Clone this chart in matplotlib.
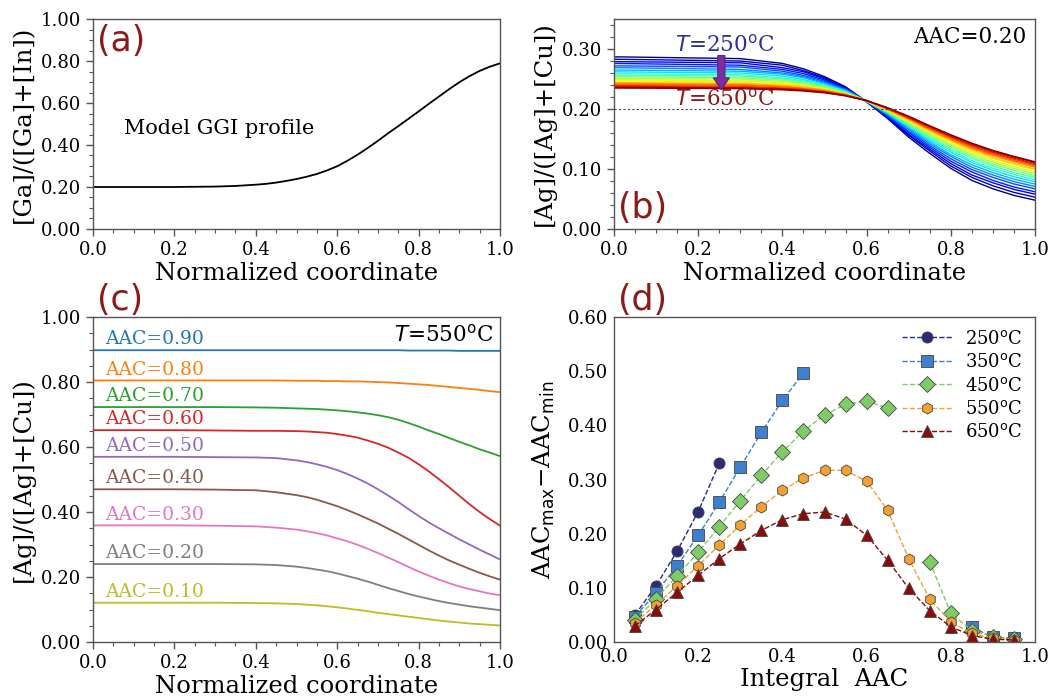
import numpy as np
import matplotlib.pyplot as plt
from matplotlib.ticker import AutoMinorLocator, MultipleLocator

plt.rcParams['font.family'] = 'DejaVu Serif'
plt.rcParams['mathtext.fontset'] = 'dejavusans'

# (a) model GGI profile
ggi_x = [0.0, 0.1, 0.2, 0.25, 0.3, 0.35, 0.375, 0.4, 0.425, 0.45, 0.475, 0.5,
         0.525, 0.55, 0.575, 0.6, 0.625, 0.65, 0.675, 0.7, 0.725, 0.75, 0.775,
         0.8, 0.825, 0.85, 0.875, 0.9, 0.925, 0.95, 0.975, 1.0]
ggi_y = [0.200, 0.200, 0.200, 0.201, 0.202, 0.205, 0.208, 0.211, 0.215, 0.221, 0.229, 0.238,
         0.249, 0.262, 0.279, 0.299, 0.325, 0.354, 0.386, 0.420, 0.456, 0.490, 0.525,
         0.560, 0.596, 0.631, 0.666, 0.699, 0.728, 0.753, 0.773, 0.789]

# (b) AAC=0.20 profiles, 250..650 C
b_x = [0.0, 0.3, 0.4, 0.45, 0.5, 0.55, 0.6, 0.65, 0.7, 0.75, 0.8, 0.85, 0.9, 0.95, 1.0]
b_temps = list(range(250, 651, 20))
b_profiles = [
    [.287, .284, .276, .267, .254, .237, .212, .184, .153, .126, .101, .081, .067, .056, .048],
    [.283, .280, .273, .264, .252, .236, .212, .185, .156, .130, .105, .086, .072, .061, .053],
    [.279, .277, .269, .262, .250, .235, .212, .187, .158, .133, .109, .090, .077, .066, .058],
    [.276, .273, .266, .259, .248, .234, .212, .188, .161, .136, .113, .095, .081, .070, .062],
    [.272, .270, .263, .256, .246, .233, .213, .189, .163, .139, .117, .099, .086, .075, .067],
    [.269, .266, .260, .254, .244, .232, .213, .190, .166, .142, .121, .103, .090, .079, .071],
    [.265, .263, .258, .252, .243, .231, .213, .192, .168, .145, .124, .107, .094, .083, .075],
    [.262, .260, .255, .249, .241, .230, .213, .193, .170, .148, .128, .111, .098, .087, .079],
    [.259, .257, .252, .247, .240, .229, .213, .194, .172, .151, .131, .114, .101, .091, .082],
    [.256, .255, .250, .245, .238, .228, .213, .195, .174, .153, .134, .118, .105, .094, .086],
    [.254, .252, .248, .243, .237, .227, .213, .196, .176, .156, .137, .121, .108, .098, .089],
    [.251, .250, .246, .242, .235, .227, .213, .196, .177, .158, .140, .124, .111, .101, .092],
    [.249, .247, .244, .240, .234, .226, .214, .197, .179, .160, .142, .127, .114, .104, .095],
    [.247, .245, .242, .238, .233, .225, .214, .198, .180, .162, .145, .129, .117, .107, .098],
    [.244, .243, .240, .237, .232, .225, .214, .199, .182, .164, .147, .132, .119, .109, .100],
    [.243, .241, .238, .235, .231, .224, .214, .199, .183, .165, .149, .134, .122, .112, .103],
    [.241, .240, .237, .234, .230, .224, .214, .200, .184, .167, .151, .136, .124, .114, .105],
    [.239, .238, .235, .233, .229, .223, .214, .201, .185, .168, .153, .138, .126, .116, .107],
    [.238, .236, .234, .232, .228, .223, .214, .201, .186, .170, .154, .140, .128, .118, .109],
    [.236, .235, .233, .231, .228, .222, .214, .202, .187, .171, .156, .142, .130, .120, .111],
    [.235, .234, .232, .230, .227, .222, .214, .202, .188, .172, .157, .143, .131, .121, .112],
]

# (c) T=550 C profiles for several AAC
c_x = [0.0, 0.2, 0.3, 0.4, 0.45, 0.5, 0.525, 0.55, 0.575, 0.6, 0.625, 0.65, 0.675,
       0.7, 0.725, 0.75, 0.775, 0.8, 0.825, 0.85, 0.875, 0.9, 0.925, 0.95, 0.975, 1.0]
c_aac = [0.90, 0.80, 0.70, 0.60, 0.50, 0.40, 0.30, 0.20, 0.10]
c_profiles = [
    [.898, .898, .898, .898, .898, .898, .898, .898, .898, .898, .898, .898, .898,
     .898, .898, .898, .897, .897, .897, .897, .897, .896, .896, .896, .896, .896],
    [.805, .805, .805, .805, .805, .804, .804, .804, .803, .803, .802, .802, .801,
     .800, .799, .797, .795, .793, .791, .788, .785, .782, .779, .776, .772, .769],
    [.723, .723, .723, .722, .721, .719, .718, .717, .715, .713, .710, .707, .703,
     .698, .692, .684, .674, .663, .651, .640, .628, .616, .605, .593, .583, .572],
    [.652, .652, .651, .650, .650, .649, .648, .646, .644, .640, .635, .629, .620,
     .610, .598, .583, .567, .547, .525, .501, .476, .450, .424, .400, .378, .358],
    [.570, .570, .569, .568, .566, .559, .554, .547, .539, .529, .517, .503, .488,
     .470, .451, .431, .409, .388, .368, .350, .333, .316, .300, .284, .269, .254],
    [.470, .470, .469, .467, .461, .452, .446, .438, .428, .418, .406, .393, .379,
     .365, .349, .333, .316, .299, .282, .266, .251, .238, .225, .213, .202, .192],
    [.359, .359, .358, .356, .352, .346, .341, .335, .328, .319, .310, .299, .287,
     .274, .260, .246, .231, .217, .204, .192, .181, .171, .163, .156, .149, .144],
    [.240, .240, .240, .239, .237, .232, .228, .223, .218, .211, .203, .195, .186,
     .176, .166, .157, .148, .140, .133, .126, .120, .115, .110, .106, .102, .098],
    [.121, .121, .121, .120, .119, .117, .115, .113, .110, .107, .103, .099, .095,
     .090, .086, .082, .078, .074, .070, .066, .063, .060, .057, .055, .053, .051],
]

# (d) AAC_max - AAC_min vs integral AAC
nan = np.nan
d_x = [0.05, 0.10, 0.15, 0.20, 0.25, 0.30, 0.35, 0.40, 0.45, 0.50,
       0.55, 0.60, 0.65, 0.70, 0.75, 0.80, 0.85, 0.90, 0.95]
d_250 = [0.050, 0.104, 0.168, 0.241, 0.330, nan, nan, nan, nan, nan,
         nan, nan, nan, nan, nan, nan, nan, nan, nan]
d_350 = [0.047, 0.091, 0.141, 0.197, 0.258, 0.323, 0.387, 0.446, 0.497, nan,
         nan, nan, nan, nan, nan, nan, 0.027, 0.009, 0.007]
d_450 = [0.041, 0.080, 0.122, 0.166, 0.213, 0.261, 0.308, 0.351, 0.390, 0.419,
         0.439, 0.445, 0.432, nan, 0.148, 0.053, 0.021, 0.010, 0.006]
d_550 = [0.036, 0.069, 0.104, 0.141, 0.179, 0.216, 0.250, 0.280, 0.303, 0.317,
         0.317, 0.297, 0.243, 0.154, 0.079, 0.037, 0.016, 0.007, 0.004]
d_650 = [0.030, 0.060, 0.092, 0.123, 0.154, 0.181, 0.206, 0.226, 0.237, 0.240,
         0.227, 0.197, 0.151, 0.099, 0.058, 0.028, 0.012, 0.005, 0.004]
d_labels = ['250', '350', '450', '550', '650']

panel_red = '#8b1a1a'
spine_c = '#555555'


def style(ax):
    for s in ax.spines.values():
        s.set_color(spine_c)
        s.set_linewidth(1.0)
    ax.tick_params(which='both', direction='out', color=spine_c, labelsize=13,
                   top=False, right=False)
    ax.tick_params(which='major', length=5, width=1)
    ax.tick_params(which='minor', length=3, width=0.8)
    ax.xaxis.set_minor_locator(AutoMinorLocator())
    ax.yaxis.set_minor_locator(AutoMinorLocator())


fig = plt.figure(figsize=(10.51, 6.99), dpi=100)
ax_a = fig.add_axes([0.0885, 0.6724, 0.3873, 0.3004])
ax_b = fig.add_axes([0.5842, 0.6724, 0.4006, 0.3004])
ax_c = fig.add_axes([0.0885, 0.0815, 0.3873, 0.4649])
ax_d = fig.add_axes([0.5842, 0.0815, 0.4006, 0.4649])

# (a)
ax_a.plot(ggi_x, ggi_y, color='black', lw=1.3)
ax_a.set_xlim(0, 1)
ax_a.set_ylim(0, 1)
ax_a.xaxis.set_major_locator(MultipleLocator(0.2))
ax_a.yaxis.set_major_locator(MultipleLocator(0.2))
ax_a.yaxis.set_major_formatter('{x:.2f}')
ax_a.xaxis.set_major_formatter('{x:.1f}')
style(ax_a)
ax_a.text(0.075, 0.48, 'Model GGI profile', fontsize=15, va='center')
ax_a.set_xlabel('Normalized coordinate', fontsize=17.5, labelpad=2)
ax_a.set_ylabel('[Ga]/([Ga]+[In])', fontsize=17.5, labelpad=4)
ax_a.text(0.01, 0.975, '(a)', transform=ax_a.transAxes, family='DejaVu Sans',
          fontsize=25, color=panel_red, va='top', ha='left')

# (b)
cols = plt.cm.jet(np.linspace(0, 1, len(b_temps)))
for prof, col in zip(b_profiles, cols):
    ax_b.plot(b_x, prof, color=col, lw=1.0)
ax_b.axhline(0.20, color='#444444', lw=0.8, ls=(0, (2, 2)))
ax_b.set_xlim(0, 1)
ax_b.set_ylim(0, 0.35)
ax_b.xaxis.set_major_locator(MultipleLocator(0.2))
ax_b.yaxis.set_major_locator(MultipleLocator(0.1))
ax_b.yaxis.set_major_formatter('{x:.2f}')
ax_b.xaxis.set_major_formatter('{x:.1f}')
style(ax_b)
ax_b.set_xlabel('Normalized coordinate', fontsize=17.5, labelpad=2)
ax_b.set_ylabel('[Ag]/([Ag]+[Cu])', fontsize=17.5, labelpad=4)
ax_b.text(0.98, 0.965, 'AAC=0.20', transform=ax_b.transAxes, fontsize=15.5,
          ha='right', va='top')
ax_b.text(0.144, 0.306, r'$T$=250$^{\rm o}$C', fontsize=15.5, color='#2e3192',
          va='center', ha='left')
ax_b.text(0.144, 0.216, r'$T$=650$^{\rm o}$C', fontsize=15.5, color=panel_red,
          va='center', ha='left')
ax_b.arrow(0.255, 0.289, 0, -0.057, width=0.017, head_width=0.038,
           head_length=0.02, length_includes_head=True,
           facecolor='#7d2e9e', edgecolor='#5a1f78', lw=0.8, zorder=5)
ax_b.text(0.01, 0.02, '(b)', transform=ax_b.transAxes, family='DejaVu Sans',
          fontsize=25, color=panel_red, va='bottom', ha='left')

# (c)
c_colors = plt.rcParams['axes.prop_cycle'].by_key()['color']
for aac, prof, col in zip(c_aac, c_profiles, c_colors):
    ax_c.plot(c_x, prof, color=col, lw=1.3)
    ax_c.text(0.03, prof[0] + 0.018, f'AAC={aac:.2f}', color=col, fontsize=13.5,
              va='baseline', ha='left')
ax_c.set_xlim(0, 1)
ax_c.set_ylim(0, 1)
ax_c.xaxis.set_major_locator(MultipleLocator(0.2))
ax_c.yaxis.set_major_locator(MultipleLocator(0.2))
ax_c.yaxis.set_major_formatter('{x:.2f}')
ax_c.xaxis.set_major_formatter('{x:.1f}')
style(ax_c)
ax_c.set_xlabel('Normalized coordinate', fontsize=17.5, labelpad=2)
ax_c.set_ylabel('[Ag]/([Ag]+[Cu])', fontsize=17.5, labelpad=4)
ax_c.text(0.983, 0.945, r'$T$=550$^{\rm o}$C', transform=ax_c.transAxes,
          fontsize=15.5, ha='right', va='center')
ax_c.text(0.01, 1.0, '(c)', transform=ax_c.transAxes, family='DejaVu Sans',
          fontsize=25, color=panel_red, va='bottom', ha='left')

# (d)
d_series = [d_250, d_350, d_450, d_550, d_650]
d_colors = ['#2b2b7a', '#3f7fcf', '#7fcc66', '#f5a030', '#8b0a0a']
d_markers = ['o', 's', 'D', 'h', '^']
for ys, lab, col, mk in zip(d_series, d_labels, d_colors, d_markers):
    ax_d.plot(d_x, ys, ls='--', lw=1.0, color=col, marker=mk, ms=8,
              mfc=col, mec='#444444', mew=0.6, label=lab + r'$^{\rm o}$C')
ax_d.set_xlim(0, 1)
ax_d.set_ylim(0, 0.6)
ax_d.xaxis.set_major_locator(MultipleLocator(0.2))
ax_d.yaxis.set_major_locator(MultipleLocator(0.1))
ax_d.yaxis.set_major_formatter('{x:.2f}')
ax_d.xaxis.set_major_formatter('{x:.1f}')
for s in ax_d.spines.values():
    s.set_color(spine_c)
    s.set_linewidth(1.0)
ax_d.tick_params(length=0, labelsize=13, pad=4)
ax_d.set_xlabel('Integral  AAC', fontsize=17.5, labelpad=2)
ax_d.set_ylabel('AAC$_{\\rm max}$\u2212AAC$_{\\rm min}$', fontsize=17.5, labelpad=8)
ax_d.legend(loc='upper right', frameon=False, fontsize=13, numpoints=1,
            handlelength=2.8, handletextpad=0.7, labelspacing=0.3,
            borderaxespad=0.3)
ax_d.text(0.01, 1.0, '(d)', transform=ax_d.transAxes, family='DejaVu Sans',
          fontsize=25, color=panel_red, va='bottom', ha='left')

fig.savefig('out.png', dpi=100)
